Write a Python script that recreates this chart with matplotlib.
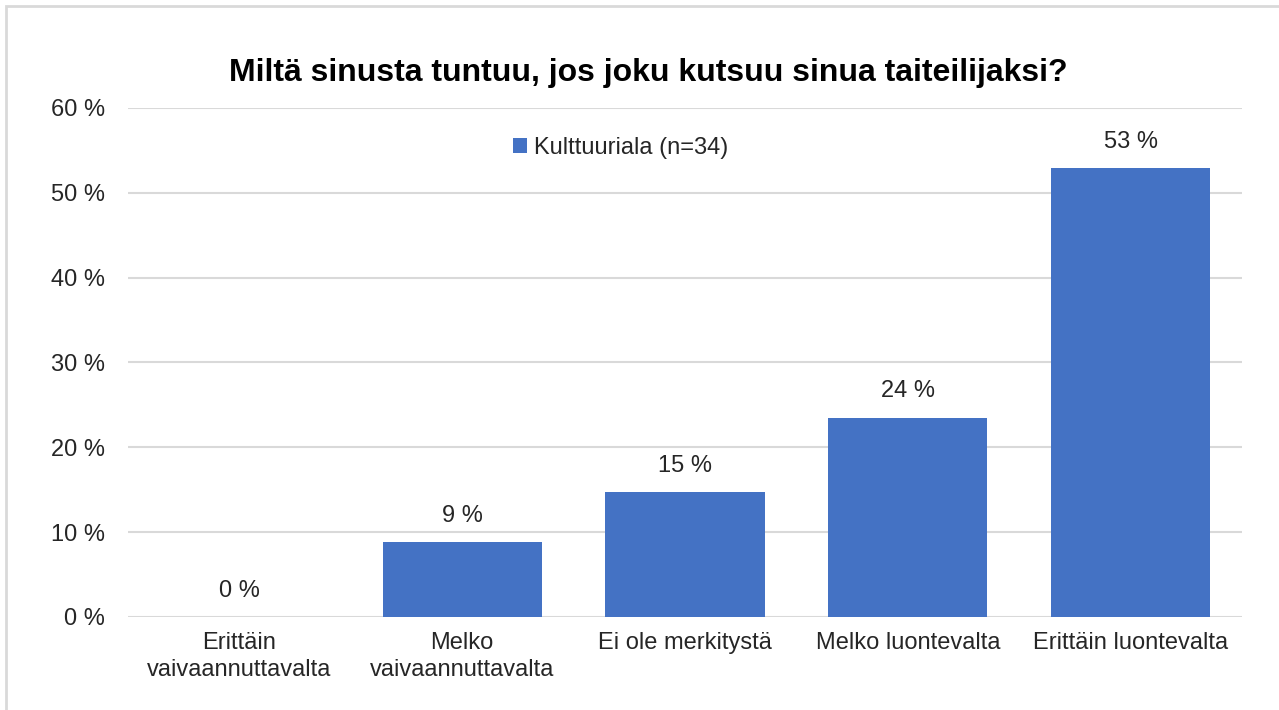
import matplotlib.pyplot as plt
import matplotlib.patches as patches
import numpy as np

categories = ['Erittäin\nvaivaannuttavalta', 'Melko\nvaivaannuttavalta', 'Ei ole merkitystä',
              'Melko luontevalta', 'Erittäin luontevalta']
values = [0.0, 8.8, 14.7, 23.5, 52.9]
labels = ['0 %', '9 %', '15 %', '24 %', '53 %']
series_name = 'Kulttuuriala (n=34)'
title = 'Miltä sinusta tuntuu, jos joku kutsuu sinua taiteilijaksi?'

plt.rcParams['font.family'] = ['Liberation Sans', 'DejaVu Sans']

fig = plt.figure(figsize=(12.79, 7.10), dpi=100)
ax = fig.add_axes([0.1001, 0.131, 0.8710, 0.717])

# light outer frame like the chart area border
frame = patches.Rectangle((6 / 1279, -0.05), 1.2, (710 - 6) / 710 + 0.05, transform=fig.transFigure,
                          fill=False, edgecolor='#d9d9d9', linewidth=2)
fig.patches.append(frame)

x = np.arange(len(categories))
bars = ax.bar(x, values, width=0.715, color='#4472c4', label=series_name, zorder=3)

for xi, v, lab in zip(x, values, labels):
    ax.text(xi, v + 1.8, lab, ha='center', va='bottom', fontsize=17, color='#262626')

ax.set_xlim(-0.5, len(categories) - 0.5)
ax.set_ylim(0, 60)
ax.set_yticks(range(0, 61, 10))
ax.set_yticklabels(['%d %%' % t for t in range(0, 61, 10)], fontsize=17, color='#262626')
ax.set_xticks(x)
ax.set_xticklabels(categories, fontsize=17, color='#262626', linespacing=1.3)
ax.tick_params(axis='both', length=0)
ax.tick_params(axis='y', pad=16.5)
ax.tick_params(axis='x', pad=11)
ax.grid(axis='y', color='#d9d9d9', linewidth=1.5, zorder=0)
for s in ax.spines.values():
    s.set_visible(False)

leg = ax.legend(loc='upper center', bbox_to_anchor=(0.442, 0.985), frameon=False, fontsize=17,
                handlelength=0.6, handleheight=0.6, handletextpad=0.3)
for t in leg.get_texts():
    t.set_color('#262626')

fig.text(0.507, 0.897, title, ha='center', va='center', fontsize=23, fontweight='bold', color='black')

plt.savefig('out.png', dpi=100)
